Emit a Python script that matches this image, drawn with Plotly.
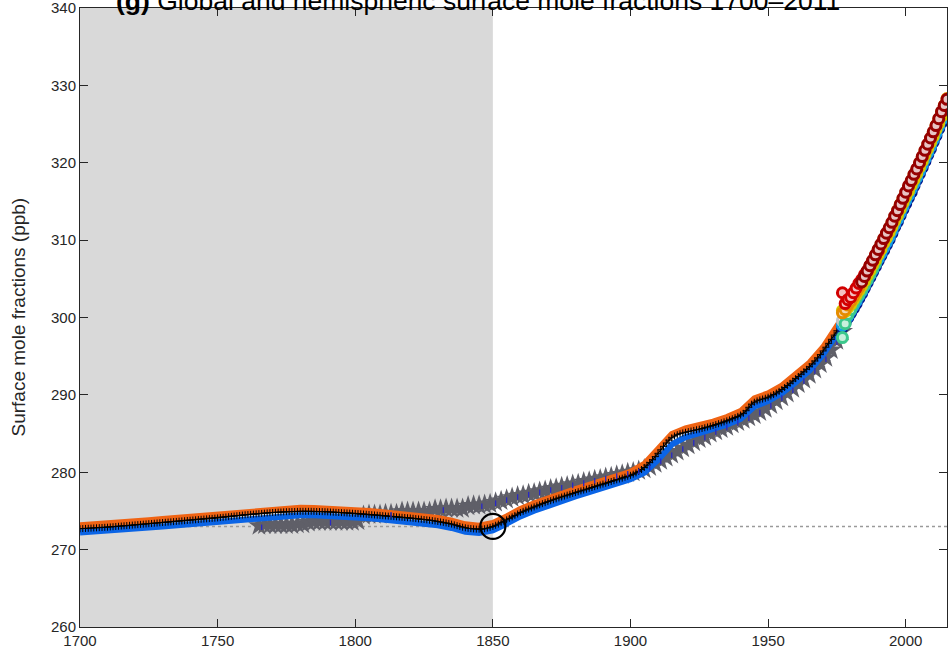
import plotly.graph_objects as go

# ---------------- data ----------------
global_years = list(range(1700, 2016))
global_vals = [
    272.70, 272.72, 272.74, 272.76, 272.78, 272.80, 272.82, 272.84, 272.86, 272.88,
    272.90, 272.93, 272.96, 272.99, 273.02, 273.05, 273.08, 273.11, 273.14, 273.17,
    273.20, 273.23, 273.26, 273.29, 273.32, 273.35, 273.38, 273.41, 273.44, 273.47,
    273.50, 273.53, 273.56, 273.59, 273.62, 273.65, 273.68, 273.71, 273.74, 273.77,
    273.80, 273.83, 273.86, 273.89, 273.92, 273.95, 273.98, 274.01, 274.04, 274.07,
    274.10, 274.14, 274.18, 274.22, 274.26, 274.30, 274.34, 274.38, 274.42, 274.46,
    274.50, 274.53, 274.56, 274.59, 274.62, 274.65, 274.68, 274.71, 274.74, 274.77,
    274.80, 274.82, 274.84, 274.86, 274.88, 274.90, 274.91, 274.92, 274.93, 274.94,
    274.95, 274.95, 274.95, 274.95, 274.95, 274.94, 274.93, 274.92, 274.91, 274.90,
    274.88, 274.86, 274.84, 274.82, 274.80, 274.78, 274.76, 274.74, 274.72, 274.70,
    274.68, 274.66, 274.63, 274.60, 274.57, 274.54, 274.51, 274.48, 274.45, 274.42,
    274.39, 274.36, 274.33, 274.30, 274.27, 274.24, 274.21, 274.18, 274.15, 274.12,
    274.09, 274.05, 274.01, 273.97, 273.93, 273.89, 273.85, 273.80, 273.75, 273.70,
    273.64, 273.58, 273.52, 273.45, 273.38, 273.30, 273.20, 273.10, 273.00, 272.90,
    272.82, 272.76, 272.72, 272.68, 272.65, 272.64, 272.65, 272.70, 272.78, 272.88,
    273.00, 273.15, 273.30, 273.48, 273.66, 273.85, 274.04, 274.23, 274.42, 274.61,
    274.80, 274.95, 275.10, 275.24, 275.38, 275.52, 275.66, 275.80, 275.94, 276.07,
    276.20, 276.32, 276.44, 276.56, 276.68, 276.80, 276.92, 277.04, 277.15, 277.26,
    277.37, 277.48, 277.59, 277.70, 277.81, 277.92, 278.03, 278.14, 278.25, 278.36,
    278.47, 278.58, 278.69, 278.80, 278.91, 279.02, 279.13, 279.24, 279.36, 279.48,
    279.60, 279.75, 279.92, 280.12, 280.35, 280.62, 280.92, 281.25, 281.62, 282.02,
    282.45, 282.90, 283.35, 283.78, 284.15, 284.45, 284.68, 284.85, 284.98, 285.08,
    285.17, 285.25, 285.33, 285.41, 285.49, 285.57, 285.66, 285.75, 285.85, 285.95,
    286.05, 286.16, 286.27, 286.39, 286.51, 286.64, 286.77, 286.91, 287.06, 287.22,
    287.40, 287.62, 287.95, 288.40, 288.80, 289.05, 289.22, 289.35, 289.46, 289.57,
    289.70, 289.86, 290.04, 290.24, 290.46, 290.70, 290.95, 291.22, 291.50, 291.79,
    292.10, 292.38, 292.67, 292.98, 293.30, 293.64, 294.00, 294.38, 294.78, 295.20,
    295.68, 296.16, 296.66, 297.18, 297.72, 298.28, 298.84, 299.40, 299.96, 300.52,
    301.10, 301.78, 302.46, 303.14, 303.82, 304.50, 305.18, 305.88, 306.58, 307.28,
    308.00, 308.70, 309.40, 310.10, 310.80, 311.55, 312.30, 313.05, 313.85, 314.65,
    315.40, 316.15, 316.90, 317.65, 318.40, 319.15, 319.95, 320.75, 321.55, 322.35,
    323.15, 324.00, 324.85, 325.75, 326.65, 327.60,
]

hemi_years = list(range(1700, 2016, 5))
nh_vals = [
    273.15, 273.25, 273.35, 273.50, 273.65, 273.80, 273.95, 274.10, 274.25, 274.40,
    274.55, 274.75, 274.95, 275.10, 275.25, 275.35, 275.40, 275.39, 275.33, 275.23,
    275.13, 274.99, 274.84, 274.69, 274.54, 274.34, 274.09, 273.75, 273.27, 273.09,
    273.45, 274.30, 275.25, 275.97, 276.65, 277.25, 277.82, 278.37, 278.92, 279.47,
    280.05, 281.07, 282.95, 284.95, 285.67, 286.07, 286.55, 287.14, 287.90, 289.55,
    290.20, 291.20, 292.60, 294.14, 296.18, 298.78, 301.60, 305.00, 308.50, 312.05,
    315.90, 319.65, 323.65, 328.10,
]
sh_vals = [
    272.20, 272.30, 272.40, 272.55, 272.70, 272.85, 273.00, 273.15, 273.30, 273.45,
    273.60, 273.80, 274.00, 274.15, 274.30, 274.40, 274.45, 274.44, 274.38, 274.28,
    274.18, 274.04, 273.89, 273.74, 273.59, 273.39, 273.14, 272.80, 272.32, 272.14,
    272.50, 273.35, 274.30, 275.02, 275.70, 276.30, 276.87, 277.42, 277.97, 278.52,
    279.10, 279.95, 281.60, 283.60, 284.55, 285.07, 285.55, 286.14, 286.90, 288.50,
    289.20, 290.20, 291.60, 293.14, 295.18, 297.78, 300.60, 304.00, 307.50, 311.05,
    314.90, 318.65, 322.65, 327.10,
]

ice_years = list(range(1765, 1979, 2))
ice_vals = [
    273.1, 273.2, 273.2, 273.2, 273.2, 273.2, 273.2, 273.3, 273.3, 273.5,
    273.6, 273.6, 273.6, 273.6, 273.6, 273.6, 273.6, 273.6, 273.7, 274.4,
    274.5, 274.5, 274.5, 274.6, 274.6, 274.6, 274.9, 274.9, 274.9, 274.9,
    274.9, 274.9, 275.2, 275.2, 275.3, 275.3, 275.3, 275.3, 275.6, 275.7,
    275.7, 275.8, 275.9, 276.1, 276.3, 276.5, 276.7, 276.9, 277.0, 277.2,
    277.3, 277.5, 277.6, 277.8, 277.9, 278.1, 278.2, 278.4, 278.5, 278.7,
    278.8, 279.0, 279.1, 279.3, 279.4, 279.6, 279.7, 279.9, 280.0, 280.2,
    280.4, 280.7, 281.1, 281.5, 281.9, 282.3, 282.7, 283.1, 283.5, 283.9,
    284.3, 284.6, 285.0, 285.3, 285.6, 285.9, 286.2, 286.5, 286.8, 287.1,
    287.4, 287.8, 288.2, 288.7, 289.2, 289.7, 290.2, 290.8, 291.4, 292.0,
    292.6, 293.3, 294.0, 294.8, 295.8, 297.0, 298.2,
]

core_years = [1766, 1791, 1813, 1832, 1846, 1851, 1855, 1859, 1863, 1867, 1871,
              1875, 1879, 1883, 1887, 1891, 1895, 1899, 1903, 1907, 1911, 1915,
              1919, 1923, 1927, 1931, 1935, 1939, 1943, 1947, 1951, 1955, 1959,
              1963, 1967, 1971, 1975]
core_vals = [272.9, 273.5, 274.5, 275.1, 275.6, 276.0, 276.4, 276.8, 277.1, 277.4,
             277.7, 278.0, 278.3, 278.6, 278.9, 279.2, 279.5, 279.8, 280.1, 280.6,
             281.4, 282.2, 283.0, 283.8, 284.5, 285.2, 285.8, 286.4, 287.0, 287.7,
             288.6, 289.6, 290.6, 291.8, 293.1, 294.6, 296.8]

st_years_a = list(range(1977, 2016))
orange_vals = [300.6, 301.0, 301.6, 302.1, 302.7, 303.3, 303.9, 304.6, 305.3, 305.9,
               306.6, 307.3, 308.0, 308.7, 309.4, 310.1, 310.8, 311.5, 312.2, 313.0,
               313.8, 314.6, 315.3, 316.1, 316.9, 317.6, 318.4, 319.1, 319.9, 320.7,
               321.5, 322.3, 323.1, 323.9, 324.8, 325.6, 326.5, 327.4, 328.3]
yellow_vals = [300.9, 300.8, 301.3, 301.7, 302.3, 302.9, 303.5, 304.1, 304.7, 305.4,
               306.1, 306.8, 307.4, 308.1, 308.8, 309.6, 310.3, 311.0, 311.7, 312.5,
               313.2, 314.0, 314.8, 315.6, 316.3, 317.1, 317.8, 318.6, 319.4, 320.2,
               321.0, 321.8, 322.6, 323.4, 324.3, 325.1, 326.0, 326.9, 327.8]
cyan_vals = [299.0, 299.6, 300.2, 300.9, 301.5, 302.1, 302.8, 303.4, 304.1, 304.8,
             305.5, 306.2, 306.9, 307.6, 308.3, 309.0, 309.7, 310.4, 311.2, 312.0,
             312.7, 313.5, 314.3, 315.1, 315.8, 316.6, 317.3, 318.1, 318.9, 319.7,
             320.5, 321.3, 322.1, 323.0, 323.8, 324.7, 325.6, 326.5, 327.3]
navy_vals = [298.8, 299.4, 300.0, 300.6, 301.2, 301.8, 302.5, 303.1, 303.8, 304.5,
             305.2, 305.9, 306.6, 307.3, 308.0, 308.7, 309.4, 310.1, 310.9, 311.7,
             312.4, 313.2, 314.0, 314.7, 315.5, 316.2, 317.0, 317.8, 318.6, 319.4,
             320.2, 321.0, 321.8, 322.7, 323.5, 324.4, 325.2, 326.1, 327.0]

grey_st_years = list(range(1977, 1996))
grey_st_vals = [299.6, 300.3, 301.4, 301.5, 302.4, 303.0, 303.4, 304.4, 305.0, 305.5,
                306.4, 307.0, 307.8, 308.3, 309.2, 309.9, 310.4, 311.3, 311.9]

green_years = list(range(1977, 1990))
green_vals = [297.4, 299.2, 300.4, 301.0, 301.8, 302.5, 303.0, 303.6, 304.2, 304.9,
              305.6, 306.3, 307.0]

red_years = list(range(1977, 1991))
red_vals = [303.2, 301.8, 302.3, 302.6, 303.2, 303.8, 304.4, 304.9, 305.5, 306.0,
            306.7, 307.3, 308.0, 308.6]

darkred_years = list(range(1984, 2016))
darkred_vals = [304.6, 305.3, 306.0, 306.7, 307.4, 308.1, 308.8, 309.5, 310.2, 310.9,
                311.6, 312.3, 313.1, 313.8, 314.6, 315.4, 316.2, 317.0, 317.7, 318.5,
                319.2, 320.0, 320.8, 321.6, 322.4, 323.2, 324.0, 324.8, 325.7, 326.6,
                327.4, 328.2]

ref_year = [1850]
ref_val = [273.0]
baseline_val = 273.0

x_ticks = [1700, 1750, 1800, 1850, 1900, 1950, 2000]
y_ticks = [260, 270, 280, 290, 300, 310, 320, 330, 340]

title_text = "<b>(g)</b> Global and hemispheric surface mole fractions 1700–2011"
y_title = "Surface mole fractions (ppb)"

# ---------------- figure ----------------
FONT = "Liberation Sans, Arial, sans-serif"
W, H = 948, 656
ML, MR, MT, MB = 80, 1, 8, 29
PW, PH = W - ML - MR, H - MT - MB

fig = go.Figure()

# ice-core / firn record (grey stars)
fig.add_trace(go.Scatter(x=ice_years, y=ice_vals, mode="markers",
                         marker=dict(symbol="star", size=16, color="#5f5f68",
                                     line=dict(width=0)),
                         showlegend=False, hoverinfo="skip"))
# hemispheric model lines
fig.add_trace(go.Scatter(x=hemi_years, y=sh_vals, mode="lines",
                         line=dict(color="#0a64e6", width=6),
                         showlegend=False, hoverinfo="skip"))
fig.add_trace(go.Scatter(x=hemi_years, y=nh_vals, mode="lines",
                         line=dict(color="#f06414", width=6),
                         showlegend=False, hoverinfo="skip"))
# global mean (black with + marks)
fig.add_trace(go.Scatter(x=global_years, y=global_vals, mode="lines+markers",
                         line=dict(color="black", width=1.2),
                         marker=dict(symbol="cross-thin", size=5, color="black",
                                     line=dict(width=1, color="black")),
                         showlegend=False, hoverinfo="skip"))
# small blue core measurement marks
fig.add_trace(go.Scatter(x=core_years, y=core_vals, mode="markers",
                         marker=dict(symbol="line-ns", size=4, color="#2828c8",
                                     line=dict(width=1.3, color="#2828c8")),
                         showlegend=False, hoverinfo="skip"))

# station records (open circles)
def station(years, vals, color, fill):
    fig.add_trace(go.Scatter(x=years, y=vals, mode="markers",
                             marker=dict(symbol="circle", size=10, color=fill,
                                         line=dict(width=3, color=color)),
                             showlegend=False, hoverinfo="skip"))

station(st_years_a, navy_vals, "#00148c", "#8a96d0")
station(st_years_a, cyan_vals, "#14a0e6", "#a8dcf4")
station(grey_st_years, grey_st_vals, "#c4c4c4", "#eeeeee")
station(green_years, green_vals, "#3cc88c", "#c8f0dc")
station(st_years_a, yellow_vals, "#d2c800", "#f0ecb0")
station(st_years_a, orange_vals, "#e68c00", "#f4d8b0")
station(red_years, red_vals, "#d20000", "#f4c0c0")
station(darkred_years, darkred_vals, "#960000", "#e8c4c4")

# pre-industrial reference circle
fig.add_trace(go.Scatter(x=ref_year, y=ref_val, mode="markers",
                         marker=dict(symbol="circle-open", size=25, color="black",
                                     line=dict(width=2.2, color="black")),
                         showlegend=False, hoverinfo="skip"))

# shading for pre-industrial period and baseline
fig.add_shape(type="rect", xref="x", yref="paper", x0=x_ticks[0], x1=1850,
              y0=0, y1=1, fillcolor="#d9d9d9", line=dict(width=0), layer="below")
fig.add_shape(type="line", xref="paper", yref="y", x0=0, x1=1,
              y0=baseline_val, y1=baseline_val,
              line=dict(color="#9a9a9a", width=1.5, dash="dot"), layer="below")

axis_common = dict(showgrid=False, zeroline=False, showline=True, automargin=False,
                   linecolor="#262626", linewidth=1, mirror="ticks",
                   ticks="inside", ticklen=8, tickwidth=1, tickcolor="#262626",
                   ticklabeloverflow="allow",
                   tickfont=dict(family=FONT, size=15, color="#262626"))

fig.update_xaxes(range=[1700, 2015], tickvals=x_ticks, **axis_common)
fig.update_yaxes(range=[260, 340], tickvals=y_ticks, **axis_common)

# title (partly cut at the top like the reference) and y-axis title
fig.add_annotation(text=title_text, xref="paper", yref="paper",
                   x=(114 - ML) / PW, y=1 + (MT - 1) / PH,
                   xanchor="left", yanchor="middle", showarrow=False,
                   font=dict(family=FONT, size=26.5, color="black"))
fig.add_annotation(text=y_title, xref="paper", yref="paper",
                   x=(18 - ML) / PW, y=0.5, textangle=-90,
                   xanchor="center", yanchor="middle", showarrow=False,
                   font=dict(family=FONT, size=19, color="#262626"))

fig.update_layout(
    width=W, height=H,
    margin=dict(l=ML, r=MR, t=MT, b=MB),
    paper_bgcolor="white", plot_bgcolor="white",
    font=dict(family=FONT),
)

fig.write_html("out.html",
               config={"displayModeBar": False},
               post_script="document.body.style.margin='0';"
                           "document.body.style.overflow='hidden';")
